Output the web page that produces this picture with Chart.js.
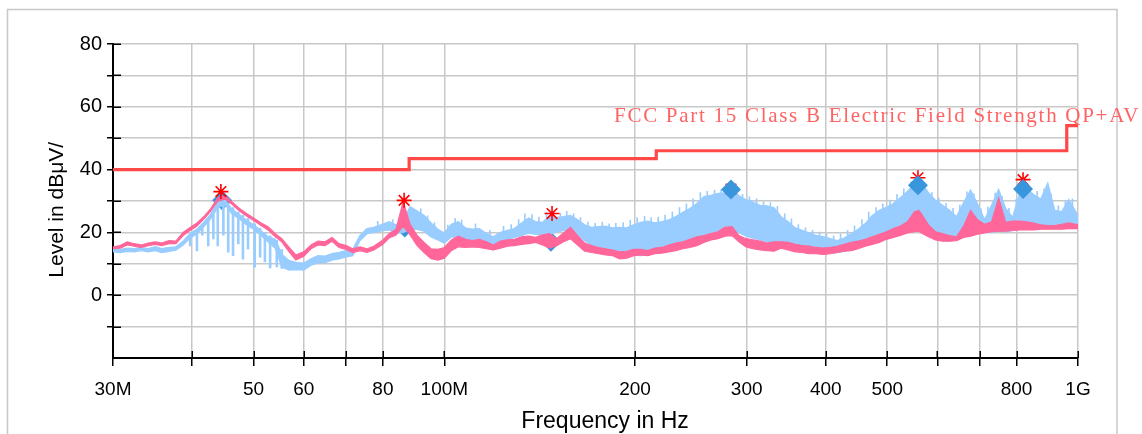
<!DOCTYPE html>
<html>
<head>
<meta charset="utf-8">
<style>
html,body{margin:0;padding:0;background:#fff;overflow:hidden}
#wrap{position:relative;width:1142px;height:434px}
</style>
<script src="https://cdn.jsdelivr.net/npm/chart.js@4.4.1/dist/chart.umd.min.js"></script>
</head>
<body>
<div id="wrap"><canvas id="c" width="1142" height="434"></canvas></div>
<script>
// ---------------- data (MHz / dBµV/m) ----------------
const freqMHz = [
  30.0, 30.8, 31.6, 32.4, 33.2, 34.1, 35.0, 35.8, 36.8, 37.7,
  38.7, 39.7, 40.7, 41.8, 42.8, 43.9, 45.1, 46.2, 47.4, 48.6,
  50.0, 51.4, 52.7, 54.1, 55.4, 56.9, 58.3, 60.0, 61.6, 63.2,
  64.8, 66.5, 68.2, 70.0, 71.7, 73.6, 75.5, 77.4, 80.0, 81.8,
  83.9, 86.1, 88.3, 90.6, 92.9, 95.3, 97.7, 100.0, 102.6, 105.2,
  108.0, 110.7, 113.6, 116.5, 119.5, 122.6, 125.8, 129.0, 132.4, 135.8,
  139.3, 142.9, 146.6, 150.4, 154.2, 158.2, 162.3, 166.5, 170.8, 175.2,
  179.7, 184.4, 189.1, 194.0, 199.0, 204.2, 209.4, 214.9, 220.4, 226.1,
  231.9, 237.9, 244.1, 250.4, 256.8, 263.5, 270.3, 277.2, 284.4, 291.7,
  299.3, 307.0, 315.0, 323.1, 331.4, 340.0, 348.8, 357.8, 367.0, 376.5,
  386.2, 396.2, 406.4, 416.9, 427.7, 438.7, 450.1, 461.7, 473.6, 485.8,
  498.4, 511.2, 524.5, 538.0, 551.9, 561.0, 566.2, 580.8, 595.8, 611.2,
  627.0, 643.2, 659.8, 676.8, 694.3, 712.2, 730.6, 749.5, 768.8, 788.7,
  809.0, 829.9, 851.4, 873.4, 896.0, 919.1, 942.9, 967.2, 992.2, 1000
];
// horizontal trace (pink): upper / lower edge of the noise band
const pinkHi = [
  15.4, 15.8, 17.0, 16.4, 16.0, 16.6, 17.0, 16.6, 17.4, 17.2,
  20.0, 21.6, 23.0, 25.2, 27.6, 31.0, 31.6, 29.8, 27.8, 26.2,
  24.6, 23.0, 21.8, 19.6, 18.0, 15.2, 12.8, 13.8, 16.0, 17.2,
  17.0, 18.4, 16.4, 15.8, 14.8, 15.4, 14.8, 15.6, 17.6, 19.6,
  21.0, 29.8, 22.6, 19.0, 16.8, 14.8, 14.6, 15.2, 17.6, 18.8,
  17.8, 17.4, 17.8, 17.0, 16.0, 17.2, 17.6, 17.8, 18.6, 18.8,
  18.4, 19.2, 19.6, 18.0, 19.8, 21.6, 19.0, 16.6, 15.8, 15.2,
  14.8, 14.4, 13.8, 14.0, 14.6, 14.6, 14.2, 15.0, 15.2, 16.0,
  16.6, 17.0, 17.8, 18.6, 19.0, 19.6, 20.2, 21.6, 21.8, 19.0,
  18.0, 17.6, 17.2, 16.6, 17.0, 17.0, 16.8, 16.2, 15.8, 15.6,
  15.2, 15.0, 15.2, 15.6, 16.2, 16.8, 17.2, 17.8, 18.6, 19.4,
  20.2, 21.2, 22.0, 23.4, 26.6, 27.0, 25.8, 22.4, 20.2, 19.6,
  19.0, 18.6, 22.0, 27.0, 24.0, 22.6, 23.4, 31.0, 23.2, 23.6,
  23.6, 23.4, 23.0, 22.4, 22.2, 22.2, 22.6, 23.0, 22.6, 22.4
];
const pinkLo = [
  14.8, 15.0, 16.0, 15.6, 15.2, 15.8, 16.2, 15.8, 16.4, 16.4,
  19.0, 20.6, 22.0, 24.4, 26.8, 30.0, 30.6, 29.0, 27.0, 25.4,
  23.8, 22.2, 20.8, 18.6, 17.0, 13.8, 11.2, 12.4, 14.8, 16.0,
  15.8, 17.2, 15.2, 14.6, 13.6, 14.2, 13.6, 14.4, 16.2, 18.2,
  19.2, 22.0, 19.2, 15.8, 13.6, 11.6, 11.2, 11.8, 14.2, 15.4,
  15.2, 15.4, 15.2, 14.8, 14.4, 15.0, 15.6, 15.8, 16.2, 16.4,
  16.8, 16.0, 15.0, 15.8, 17.0, 18.0, 16.0, 14.0, 13.6, 13.2,
  12.8, 12.6, 11.6, 11.8, 12.6, 12.8, 12.6, 13.2, 13.4, 13.8,
  14.2, 14.8, 15.2, 15.8, 16.8, 17.6, 18.0, 18.8, 19.0, 17.0,
  15.4, 14.8, 14.4, 14.2, 14.0, 15.0, 14.4, 13.8, 13.6, 13.2,
  13.2, 13.0, 13.2, 13.6, 14.0, 14.2, 14.8, 15.6, 16.2, 16.8,
  17.8, 18.4, 19.0, 19.8, 20.2, 20.4, 19.8, 18.6, 17.6, 17.2,
  17.2, 17.4, 18.4, 18.8, 19.4, 19.8, 20.2, 20.4, 20.4, 20.6,
  20.8, 20.8, 20.8, 21.0, 21.0, 21.0, 21.0, 21.2, 21.2, 21.2
];
// vertical trace (light blue): upper / lower edge of the noise band
const blueHi = [
  14.8, 14.6, 15.0, 14.8, 15.2, 14.8, 15.4, 14.8, 15.2, 15.4,
  17.2, 19.6, 21.0, 23.4, 25.8, 29.6, 30.2, 27.4, 25.8, 24.0,
  22.4, 20.4, 18.6, 17.8, 13.0, 11.0, 10.4, 10.2, 11.6, 12.6,
  12.4, 13.2, 13.6, 14.2, 14.6, 19.0, 21.2, 21.6, 22.6, 23.4,
  22.4, 23.6, 28.2, 26.8, 25.4, 23.0, 21.0, 19.8, 22.6, 23.4,
  21.4, 21.0, 21.2, 19.6, 18.6, 20.0, 20.6, 21.2, 23.0, 24.6,
  23.4, 23.2, 25.2, 24.8, 25.0, 25.4, 24.0, 22.4, 21.6, 21.8,
  22.0, 21.4, 21.6, 21.4, 22.4, 23.2, 23.6, 23.0, 23.4, 24.0,
  25.0, 26.4, 27.6, 29.2, 31.4, 31.8, 32.4, 32.6, 34.0, 31.6,
  30.4, 29.6, 28.6, 28.4, 27.8, 25.0, 23.4, 21.4, 20.6, 19.8,
  19.0, 18.6, 18.0, 17.4, 18.2, 19.6, 21.0, 22.8, 25.4, 27.0,
  28.0, 29.2, 31.0, 33.0, 35.4, 36.6, 36.0, 32.6, 30.2, 28.6,
  27.0, 25.0, 29.4, 33.4, 29.0, 24.0, 28.6, 33.6, 27.6, 24.8,
  32.4, 34.0, 32.0, 30.6, 35.6, 27.0, 26.6, 30.4, 26.6, 24.6
];
const blueLo = [
  13.8, 13.6, 14.0, 13.8, 14.2, 13.8, 14.2, 13.6, 14.0, 14.4,
  16.0, 18.2, 19.6, 22.0, 24.4, 28.0, 28.8, 26.0, 24.4, 22.6,
  21.0, 19.0, 17.0, 15.0, 9.0, 8.0, 8.2, 8.0, 9.6, 10.4,
  10.4, 11.2, 11.6, 12.2, 12.6, 17.4, 19.6, 20.0, 20.6, 20.8,
  19.8, 20.0, 21.0, 21.0, 20.4, 18.6, 17.6, 16.6, 18.6, 18.4,
  16.8, 17.0, 17.2, 15.6, 14.4, 16.6, 17.6, 18.4, 19.0, 19.8,
  19.4, 19.2, 19.4, 20.2, 20.6, 20.8, 19.4, 17.4, 16.0, 15.2,
  14.6, 13.8, 13.4, 12.6, 12.8, 12.6, 12.8, 13.4, 13.8, 14.6,
  15.2, 15.8, 16.4, 17.0, 18.4, 19.4, 20.0, 20.6, 21.0, 20.0,
  18.8, 18.2, 17.6, 17.0, 16.8, 16.0, 15.2, 14.6, 14.0, 13.6,
  13.4, 13.2, 13.4, 13.6, 14.0, 14.6, 15.2, 16.0, 17.0, 18.4,
  19.4, 20.6, 21.6, 22.4, 22.8, 23.0, 22.6, 21.4, 20.0, 19.2,
  18.6, 18.2, 19.4, 20.2, 20.4, 20.0, 20.0, 20.4, 20.2, 20.6,
  21.0, 21.2, 21.2, 21.2, 21.4, 21.4, 21.6, 21.8, 22.0, 22.0
];
// narrow downward dips of the vertical trace around 40-55 MHz
const spikeFreq = [39.7, 40.7, 41.5, 42.4, 43.2, 43.9, 44.8, 45.6, 46.4, 47.3, 48.1, 49.0, 50.2, 51.2, 52.1, 53.1, 54.4, 55.4];
const spikeTop  = [19.6, 21.0, 22.4, 24.4, 26.0, 29.0, 30.2, 29.4, 28.0, 26.6, 25.6, 24.6, 22.8, 21.4, 20.0, 19.0, 17.6, 14.6];
const spikeLow  = [15.6, 14.0, 19.0, 15.6, 17.8, 15.6, 19.0, 13.6, 12.5, 16.2, 11.4, 14.6, 8.8, 12.0, 10.5, 8.6, 8.9, 8.4];
// narrow upward noise peaks of the vertical trace
const hairFreq = [
  78.5, 82.9, 85.0, 91.8, 94.1, 96.5,
  101.3, 104.0, 106.5, 112.0, 118.0, 124.0, 127.5, 131.0, 134.0, 137.5,
  141.0, 145.0, 148.5, 152.5, 156.0, 160.0, 164.0, 168.5, 173.0, 177.5,
  182.0, 186.5, 191.5, 196.5, 201.5, 207.0, 212.0, 217.5, 223.0, 229.0,
  235.0, 241.0, 247.0, 253.5, 260.0, 267.0, 273.5, 280.5, 288.0, 295.5,
  303.0, 311.0, 319.0, 327.0, 335.5, 344.5, 353.0, 362.0, 371.5, 381.0,
  391.0, 401.0, 411.5, 422.0, 433.0, 444.0, 456.0, 467.5, 480.0, 492.0,
  505.0, 518.0, 531.0, 545.0, 573.0, 588.0, 603.0, 619.0, 635.0, 651.0,
  668.0, 685.0, 703.0, 721.0, 740.0, 759.0, 778.0, 799.0, 840.0, 862.0,
  884.0, 907.0, 931.0, 955.0, 980.0
];
const hairTop = [
  23.6, 24.2, 24.6, 27.6, 25.4, 23.2,
  22.4, 24.6, 24.0, 22.8, 20.8, 22.0, 22.6, 24.2, 26.0, 25.8,
  25.0, 26.4, 26.6, 26.2, 26.8, 26.0, 24.8, 23.4, 23.0, 23.4,
  22.8, 23.0, 23.2, 24.0, 24.8, 25.2, 24.8, 25.0, 25.6, 26.6,
  28.0, 29.2, 30.8, 32.8, 33.2, 33.6, 33.8, 34.6, 33.4, 32.2,
  31.4, 30.8, 29.8, 29.6, 28.4, 26.0, 24.4, 22.6, 21.6, 20.8,
  20.2, 19.6, 19.0, 19.6, 20.8, 22.2, 24.2, 26.6, 28.0, 29.2,
  30.4, 32.2, 34.0, 36.2, 35.2, 32.8, 31.0, 29.4, 27.8, 28.8,
  33.0, 32.4, 27.6, 28.2, 32.6, 31.6, 27.8, 30.6, 34.4, 33.2,
  34.0, 32.4, 28.6, 30.0, 30.8
];
const hairBase = [
  21.0, 21.6, 22.0, 25.0, 23.0, 21.0,
  20.6, 22.0, 21.4, 20.0, 18.0, 19.2, 19.8, 21.2, 22.6, 22.8,
  22.2, 23.2, 24.0, 23.8, 24.0, 23.6, 22.2, 21.0, 20.6, 20.8,
  20.6, 20.4, 20.4, 20.8, 21.6, 22.2, 22.2, 22.0, 22.6, 23.4,
  24.6, 26.0, 27.4, 29.2, 30.4, 31.0, 31.4, 32.2, 31.6, 29.8,
  29.0, 28.0, 27.4, 27.0, 25.4, 23.2, 21.4, 20.0, 19.2, 18.4,
  17.8, 17.2, 16.6, 16.8, 17.8, 19.2, 20.8, 23.0, 25.2, 26.4,
  27.6, 29.0, 31.0, 33.0, 33.0, 30.4, 28.4, 26.8, 25.0, 26.0,
  30.4, 30.0, 25.4, 25.2, 30.0, 29.4, 25.2, 27.4, 32.0, 30.2,
  31.8, 30.4, 25.8, 27.4, 27.4
];
// limit line FCC Part 15 Class B
const limitFreq  = [30, 88, 88, 216, 216, 960, 960, 1000];
const limitLevel = [40, 40, 43.5, 43.5, 46, 46, 54, 54];
const limitName  = 'FCC Part 15 Class B Electric Field Strength QP+AV';
// peak markers (asterisks) and QP results (diamonds)
const peakFreq  = [44.4, 86.4, 147.9, 283.4, 559.0, 819.0];
const peakLevel = [33.0, 30.2, 26.0, 33.8, 37.4, 36.8];
const qpFreq    = [44.6, 86.6, 147.3, 283.4, 559.0, 819.0];
const qpLevel   = [30.2, 21.6, 17.0, 33.7, 35.0, 33.8];
// axis ticks
const xTickValues = [30, 40, 50, 60, 70, 80, 100, 200, 300, 400, 500, 600, 700, 800, 1000];
const xTickLabels = {30: '30M', 50: '50', 60: '60', 80: '80', 100: '100M', 200: '200', 300: '300', 400: '400', 500: '500', 800: '800', 1000: '1G'};
const yTickValues = [-10, 0, 10, 20, 30, 40, 50, 60, 70, 80];
const yTickLabels = {0: '0', 20: '20', 40: '40', 60: '60', 80: '80'};

// ---------------- chart ----------------
const FONT = "'Liberation Sans', Arial, sans-serif";
const PINK = 'rgb(255,102,153)';
const BLUE = 'rgb(153,204,255)';
const QPBLUE = 'rgb(58,150,220)';
const LIMIT = 'rgb(255,72,72)';
const GRID = 'rgb(200,200,200)';

const pts = (xs, ys) => xs.map((x, i) => ({x: x, y: ys[i]}));
const segs = (xs, a, b) => {
  const out = [];
  xs.forEach((f, i) => { out.push({x: f, y: a[i]}, {x: f, y: b[i]}, {x: f, y: null}); });
  return out;
};

const framePlugin = {
  id: 'frame',
  beforeDraw(chart) {
    const ctx = chart.ctx;
    ctx.save();
    ctx.fillStyle = '#fff';
    ctx.fillRect(0, 0, chart.width, chart.height);
    ctx.strokeStyle = 'rgb(200,200,200)';
    ctx.lineWidth = 1.5;
    ctx.strokeRect(7.5, 9.5, 1109.5, 500);
    ctx.restore();
  }
};
const innerTicks = {
  id: 'innerTicks',
  beforeDatasetsDraw(chart) {
    const {ctx, chartArea: a, scales: {x, y}} = chart;
    ctx.save();
    ctx.strokeStyle = '#000';
    ctx.lineWidth = 1.5;
    ctx.beginPath();
    y.ticks.forEach(t => { const p = Math.round(y.getPixelForValue(t.value)) + 0.25; ctx.moveTo(a.left, p); ctx.lineTo(a.left + 8, p); });
    x.ticks.forEach(t => { const p = Math.round(x.getPixelForValue(t.value)) + 0.25; ctx.moveTo(p, a.bottom); ctx.lineTo(p, a.bottom - 7); });
    ctx.stroke();
    ctx.restore();
  }
};
const limitLabel = {
  id: 'limitLabel',
  afterDatasetsDraw(chart) {
    const {ctx, scales: {x, y}} = chart;
    ctx.save();
    ctx.font = "21px 'Liberation Serif', 'Times New Roman', serif";
    ctx.fillStyle = 'rgb(255,100,100)';
    ctx.textBaseline = 'alphabetic';
    ctx.textAlign = 'left';
    const right = x.getPixelForValue(1000) + 62;
    const target = 526;
    const natural = ctx.measureText(limitName).width;
    if ('letterSpacing' in ctx) {
      ctx.letterSpacing = ((target - natural) / limitName.length).toFixed(2) + 'px';
    }
    const base = y.getPixelForValue(limitLevel[limitLevel.length - 1]) - 4;
    ctx.fillText(limitName, right - target, base);
    ctx.restore();
  }
};

new Chart(document.getElementById('c'), {
  type: 'line',
  data: {
    datasets: [
      {label: 'QP', data: pts(qpFreq.slice(3), qpLevel.slice(3)), showLine: false, pointStyle: 'rectRot', pointRadius: 10, pointBackgroundColor: QPBLUE, pointBorderColor: QPBLUE, pointBorderWidth: 0, order: 0},
      {label: 'Peaks', data: pts(peakFreq, peakLevel), showLine: false, pointStyle: 'star', pointRadius: 7.5, pointBorderColor: 'rgb(255,0,0)', pointBackgroundColor: 'rgb(255,0,0)', pointBorderWidth: 1.6, order: 1},
      {label: 'Limit', data: pts(limitFreq, limitLevel), borderColor: LIMIT, borderWidth: 3.2, pointRadius: 0, fill: false, order: 2},
      {label: 'Horizontal max', data: pts(freqMHz, pinkHi), borderColor: PINK, backgroundColor: PINK, borderWidth: 1.2, pointRadius: 0, fill: '+1', order: 3},
      {label: 'Horizontal min', data: pts(freqMHz, pinkLo), borderColor: PINK, borderWidth: 1.2, pointRadius: 0, fill: false, order: 3},
      {label: 'Vertical max', data: pts(freqMHz, blueHi), borderColor: BLUE, backgroundColor: BLUE, borderWidth: 1.4, pointRadius: 0, fill: '+1', order: 4},
      {label: 'Vertical min', data: pts(freqMHz, blueLo), borderColor: BLUE, borderWidth: 1.4, pointRadius: 0, fill: false, order: 4},
      {label: 'Vertical dips', data: segs(spikeFreq, spikeTop, spikeLow), borderColor: BLUE, borderWidth: 2.6, pointRadius: 0, fill: false, spanGaps: false, order: 4},
      {label: 'Vertical noise', data: segs(hairFreq, hairTop, hairBase), borderColor: BLUE, borderWidth: 1.6, pointRadius: 0, fill: false, spanGaps: false, order: 4},
      {label: 'QP low', data: pts(qpFreq.slice(0, 3), qpLevel.slice(0, 3)), showLine: false, pointStyle: 'rectRot', pointRadius: 10, pointBackgroundColor: QPBLUE, pointBorderColor: QPBLUE, pointBorderWidth: 0, order: 5}
    ]
  },
  options: {
    responsive: false,
    animation: false,
    events: [],
    layout: {padding: {left: 0, right: 64, top: 44, bottom: 0}},
    plugins: {legend: {display: false}, tooltip: {enabled: false}},
    elements: {line: {tension: 0}},
    scales: {
      x: {
        type: 'logarithmic', min: 30, max: 1000,
        afterBuildTicks: s => { s.ticks = xTickValues.map(v => ({value: v})); },
        afterFit: s => { s.height = 76; },
        ticks: {autoSkip: false, maxRotation: 0, minRotation: 0, color: '#000', padding: 12,
          font: {family: FONT, size: 19},
          callback: v => (xTickLabels[v] !== undefined ? xTickLabels[v] : '')},
        grid: {color: GRID, lineWidth: 1.5, tickLength: 8, tickColor: '#000', tickWidth: 1.5},
        border: {display: true, color: '#000', width: 2},
        title: {display: true, text: '   Frequency in Hz', color: '#000', font: {family: FONT, size: 23, lineHeight: 1}, padding: {top: 0, bottom: 1}}
      },
      y: {
        min: -20, max: 80,
        afterBuildTicks: s => { s.ticks = yTickValues.map(v => ({value: v})); },
        afterFit: s => { s.width = 113; },
        ticks: {color: '#000', padding: 5, font: {family: FONT, size: 20},
          callback: v => (yTickLabels[v] !== undefined ? yTickLabels[v] : '')},
        grid: {color: GRID, lineWidth: 1.5, tickLength: 6, tickColor: '#000', tickWidth: 1.5},
        border: {display: true, color: '#000', width: 2},
        title: {display: true, text: 'Level in dBμV/   ', color: '#000', font: {family: FONT, size: 21, lineHeight: 1}, padding: {top: 47, bottom: 0}}
      }
    }
  },
  plugins: [framePlugin, innerTicks, limitLabel]
});
</script>
</body>
</html>
